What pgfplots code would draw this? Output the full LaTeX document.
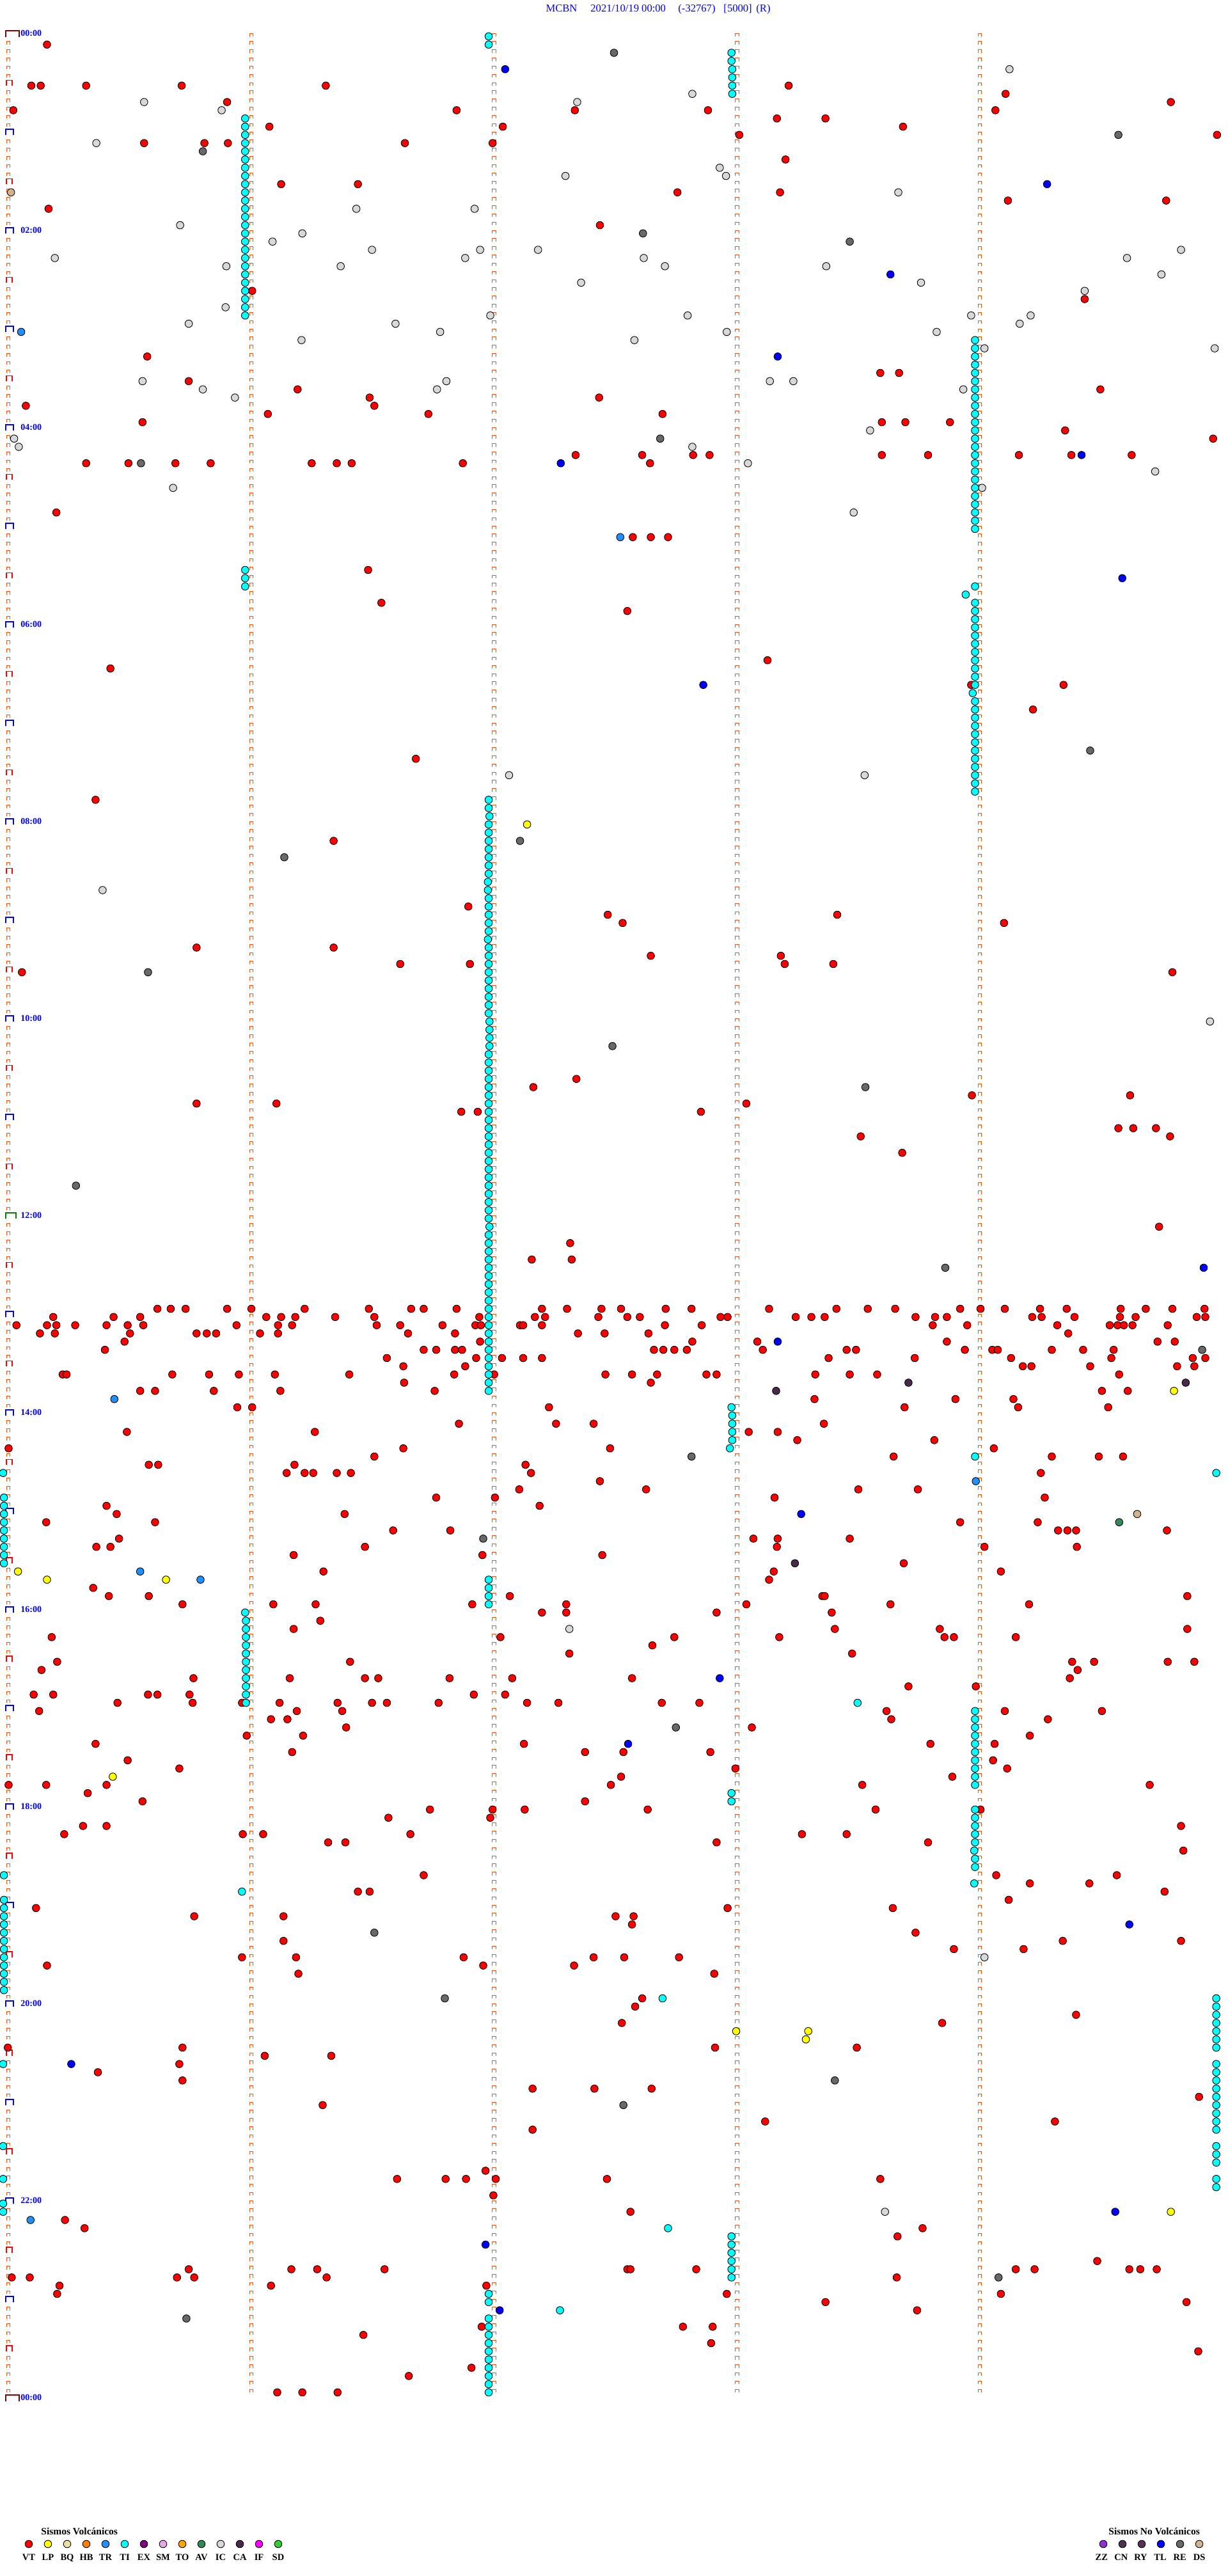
\documentclass[border=0pt]{standalone}
\usepackage{fontspec}
\setmainfont{Liberation Serif}
\usepackage{pgfplots}
\usepackage{pgfplotstable}
\pgfplotsset{compat=1.18}

\definecolor{cVT}{HTML}{FF0000}
\definecolor{cLP}{HTML}{FFFF00}
\definecolor{cBQ}{HTML}{F0E0A0}
\definecolor{cHB}{HTML}{FF8000}
\definecolor{cTR}{HTML}{1E90FF}
\definecolor{cTI}{HTML}{00FFFF}
\definecolor{cEX}{HTML}{800080}
\definecolor{cSM}{HTML}{E8A8E8}
\definecolor{cTO}{HTML}{FFA500}
\definecolor{cAV}{HTML}{2E8B57}
\definecolor{cIC}{HTML}{D8D8D8}
\definecolor{cCA}{HTML}{4A2A4A}
\definecolor{cIF}{HTML}{FF00FF}
\definecolor{cSD}{HTML}{32CD32}
\definecolor{cZZ}{HTML}{9030D0}
\definecolor{cCN}{HTML}{503050}
\definecolor{cRY}{HTML}{583058}
\definecolor{cTL}{HTML}{0000FF}
\definecolor{cRE}{HTML}{686868}
\definecolor{cDS}{HTML}{D2B48C}
\definecolor{trace}{HTML}{FF5000}
\definecolor{lblue}{HTML}{0000FF}
\definecolor{dkred}{HTML}{800000}
\definecolor{dkgreen}{HTML}{008000}

\pgfplotsset{ev/.style={only marks, mark=*, mark size=2.9pt,
  mark options={fill=#1, draw=black, line width=0.45pt}}}

% x: horizontal position within the 5-minute line, r: line number (5 min per line)
\pgfplotstableread[row sep=\\]{x r\\
60 1\\
40 6\\ 52 6\\ 110 6\\ 232 6\\ 416 6\\ 1007 6\\
1284 7\\
290 8\\ 1495 8\\
17 9\\ 583 9\\ 734 9\\ 904 9\\ 1271 9\\
992 10\\ 1054 10\\
344 11\\ 642 11\\ 1153 11\\
944 12\\ 1554 12\\
184 13\\ 261 13\\ 291 13\\ 517 13\\ 629 13\\
1003 15\\
359 18\\ 457 18\\
865 19\\ 996 19\\
1287 20\\ 1489 20\\
62 21\\
766 23\\
322 31\\
1385 32\\
188 39\\
1124 41\\ 1148 41\\
241 42\\
380 43\\ 1405 43\\
472 44\\ 765 44\\
33 45\\ 478 45\\
342 46\\ 547 46\\ 846 46\\
182 47\\ 1126 47\\ 1156 47\\ 1213 47\\
1360 48\\
1549 49\\
735 51\\ 820 51\\ 885 51\\ 906 51\\ 1126 51\\ 1185 51\\ 1301 51\\ 1368 51\\ 1445 51\\
110 52\\ 164 52\\ 224 52\\ 269 52\\ 398 52\\ 430 52\\ 449 52\\ 591 52\\ 830 52\\
72 58\\
808 61\\ 831 61\\ 853 61\\
470 65\\
487 69\\
801 70\\
980 76\\
141 77\\
1240 79\\ 1358 79\\
1319 82\\
531 88\\
122 93\\
426 98\\
598 106\\
776 107\\ 1069 107\\
795 108\\ 1282 108\\
251 111\\ 426 111\\
831 112\\ 997 112\\
511 113\\ 600 113\\ 1002 113\\ 1064 113\\
28 114\\ 1497 114\\
736 127\\
681 128\\
1241 129\\ 1443 129\\
251 130\\ 353 130\\ 953 130\\
589 131\\ 610 131\\ 895 131\\
1428 133\\ 1447 133\\ 1476 133\\
1099 134\\ 1494 134\\
1152 136\\
1480 145\\
728 147\\
679 149\\ 730 149\\
201 155\\ 218 155\\ 237 155\\ 290 155\\ 321 155\\ 389 155\\ 471 155\\ 525 155\\ 541 155\\ 583 155\\ 692 155\\ 724 155\\ 768 155\\ 793 155\\ 850 155\\ 883 155\\ 982 155\\ 1068 155\\ 1108 155\\ 1143 155\\ 1226 155\\ 1252 155\\ 1283 155\\ 1328 155\\ 1362 155\\ 1431 155\\ 1463 155\\ 1497 155\\ 1538 155\\
68 156\\ 145 156\\ 179 156\\ 340 156\\ 359 156\\ 377 156\\ 428 156\\ 478 156\\ 612 156\\ 683 156\\ 696 156\\ 764 156\\ 801 156\\ 817 156\\ 920 156\\ 929 156\\ 1016 156\\ 1036 156\\ 1053 156\\ 1169 156\\ 1194 156\\ 1209 156\\ 1318 156\\ 1330 156\\ 1372 156\\ 1430 156\\ 1450 156\\ 1528 156\\ 1539 156\\
21 157\\ 60 157\\ 72 157\\ 96 157\\ 136 157\\ 163 157\\ 183 157\\ 302 157\\ 355 157\\ 373 157\\ 481 157\\ 511 157\\ 565 157\\ 607 157\\ 614 157\\ 664 157\\ 668 157\\ 692 157\\ 849 157\\ 896 157\\ 1191 157\\ 1235 157\\ 1350 157\\ 1417 157\\ 1427 157\\ 1435 157\\ 1446 157\\ 1491 157\\
51 158\\ 70 158\\ 166 158\\ 251 158\\ 264 158\\ 276 158\\ 332 158\\ 355 158\\ 521 158\\ 581 158\\ 738 158\\ 772 158\\ 828 158\\ 1364 158\\
159 159\\ 613 159\\ 884 159\\ 967 159\\ 1209 159\\ 1478 159\\ 1500 159\\
134 160\\ 541 160\\ 557 160\\ 581 160\\ 590 160\\ 835 160\\ 847 160\\ 861 160\\ 877 160\\ 974 160\\ 1081 160\\ 1093 160\\ 1232 160\\ 1267 160\\ 1274 160\\ 1343 160\\ 1383 160\\ 1422 160\\
494 161\\ 608 161\\ 641 161\\ 668 161\\ 692 161\\ 1058 161\\ 1168 161\\ 1291 161\\ 1419 161\\ 1523 161\\ 1539 161\\
515 162\\ 594 162\\ 1306 162\\ 1317 162\\ 1392 162\\ 1503 162\\ 1525 162\\
80 163\\ 85 163\\ 220 163\\ 267 163\\ 305 163\\ 351 163\\ 446 163\\ 580 163\\ 631 163\\ 773 163\\ 807 163\\ 839 163\\ 902 163\\ 915 163\\ 1041 163\\ 1085 163\\ 1120 163\\ 1429 163\\
516 164\\ 831 164\\
179 165\\ 198 165\\ 273 165\\ 358 165\\ 555 165\\ 1407 165\\ 1440 165\\
1040 166\\ 1220 166\\ 1294 166\\
303 167\\ 322 167\\ 701 167\\ 1155 167\\ 1300 167\\ 1415 167\\
586 169\\ 710 169\\ 758 169\\ 1052 169\\
162 170\\ 402 170\\ 956 170\\ 993 170\\
1018 171\\ 1193 171\\
11 172\\ 515 172\\ 779 172\\ 1269 172\\
478 173\\ 1141 173\\ 1343 173\\ 1403 173\\ 1434 173\\
190 174\\ 202 174\\ 376 174\\ 671 174\\
366 175\\ 389 175\\ 400 175\\ 430 175\\ 448 175\\ 678 175\\ 1329 175\\
766 176\\
663 177\\ 825 177\\ 1096 177\\ 1172 177\\
557 178\\ 632 178\\ 989 178\\ 1334 178\\
136 179\\ 689 179\\
149 180\\ 440 180\\
59 181\\ 198 181\\ 1226 181\\ 1325 181\\
502 182\\ 575 182\\ 1351 182\\ 1363 182\\ 1374 182\\ 1490 182\\
152 183\\ 962 183\\ 993 183\\ 1085 183\\
123 184\\ 141 184\\ 466 184\\ 992 184\\ 1257 184\\ 1375 184\\
375 185\\ 616 185\\ 769 185\\
1154 186\\
413 187\\ 988 187\\ 1278 187\\
982 188\\
119 189\\
139 190\\ 190 190\\ 651 190\\ 1050 190\\ 1053 190\\ 1516 190\\
233 191\\ 349 191\\ 403 191\\ 603 191\\ 723 191\\ 953 191\\ 1137 191\\ 1314 191\\
692 192\\ 723 192\\ 915 192\\ 1062 192\\
409 193\\
375 194\\ 1066 194\\ 1200 194\\ 1516 194\\
66 195\\ 639 195\\ 861 195\\ 995 195\\ 1206 195\\ 1218 195\\ 1297 195\\
833 196\\
727 197\\ 1088 197\\
73 198\\ 447 198\\ 1369 198\\ 1397 198\\ 1491 198\\ 1525 198\\
53 199\\ 1376 199\\
247 200\\ 370 200\\ 466 200\\ 483 200\\ 574 200\\ 654 200\\ 807 200\\ 1366 200\\
1160 201\\ 1246 201\\
43 202\\ 68 202\\ 189 202\\ 201 202\\ 242 202\\ 605 202\\ 645 202\\
150 203\\ 246 203\\ 309 203\\ 357 203\\ 431 203\\ 475 203\\ 494 203\\ 560 203\\ 673 203\\ 713 203\\ 845 203\\ 893 203\\
50 204\\ 379 204\\ 437 204\\ 1132 204\\ 1283 204\\ 1407 204\\
346 205\\ 367 205\\ 1138 205\\ 1338 205\\
442 206\\ 960 206\\
315 207\\ 387 207\\ 1315 207\\
122 208\\ 669 208\\ 1188 208\\ 1270 208\\
373 209\\ 747 209\\ 796 209\\ 907 209\\
163 210\\ 1268 210\\
229 211\\ 939 211\\ 1286 211\\
793 212\\ 1216 212\\
11 213\\ 59 213\\ 136 213\\ 780 213\\ 1101 213\\ 1468 213\\
112 214\\
182 215\\ 747 215\\
549 216\\ 629 216\\ 670 216\\ 827 216\\ 1118 216\\ 1252 216\\
496 217\\ 626 217\\
106 218\\ 136 218\\ 1508 218\\
82 219\\ 310 219\\ 336 219\\ 524 219\\ 1024 219\\ 1081 219\\
419 220\\ 441 220\\ 915 220\\ 1185 220\\
1511 221\\
541 224\\ 1272 224\\ 1426 224\\
1315 225\\ 1391 225\\
457 226\\ 472 226\\ 1487 226\\
1288 227\\
46 228\\ 929 228\\ 1140 228\\
248 229\\ 362 229\\ 786 229\\ 809 229\\
807 230\\
1169 231\\
362 232\\ 1357 232\\ 1508 232\\
1218 233\\ 1307 233\\
309 234\\ 378 234\\ 592 234\\ 758 234\\ 797 234\\ 867 234\\
60 235\\ 617 235\\ 733 235\\
381 236\\ 912 236\\
820 239\\
811 240\\
1374 241\\
794 242\\ 1203 242\\
10 245\\ 233 245\\ 913 245\\ 1094 245\\
338 246\\ 423 246\\
229 247\\
125 248\\
233 249\\
680 250\\ 759 250\\ 832 250\\
1531 251\\
412 252\\
977 254\\ 1347 254\\
680 255\\
620 260\\
507 261\\ 569 261\\ 595 261\\ 633 261\\ 775 261\\ 1124 261\\
630 263\\
805 265\\
83 266\\
108 267\\ 1178 267\\
1146 268\\
1401 271\\
241 272\\ 372 272\\ 405 272\\ 491 272\\ 801 272\\ 805 272\\ 889 272\\ 1297 272\\ 1321 272\\ 1442 272\\ 1456 272\\ 1477 272\\
15 273\\ 38 273\\ 226 273\\ 248 273\\ 417 273\\ 1145 273\\
76 274\\ 346 274\\ 621 274\\
73 275\\ 928 275\\ 1278 275\\
1054 276\\ 1515 276\\
1171 277\\
615 279\\ 872 279\\ 910 279\\
464 280\\
908 281\\
1530 282\\
602 284\\
522 285\\
354 287\\ 386 287\\ 431 287\\
}\tabVT

\pgfplotstableread[row sep=\\]{x r\\
624 0\\ 624 1\\
934 2\\ 934 3\\ 935 4\\ 935 5\\ 935 6\\ 935 7\\
313 10\\ 313 11\\ 313 12\\ 313 13\\ 313 14\\ 313 15\\ 313 16\\ 313 17\\ 313 18\\ 313 19\\ 313 20\\ 313 21\\ 313 22\\ 313 23\\ 313 24\\ 313 25\\ 313 26\\ 313 27\\ 313 28\\ 313 29\\ 313 30\\ 313 31\\ 313 32\\ 313 33\\ 313 34\\
1245 37\\ 1245 38\\ 1245 39\\ 1245 40\\ 1245 41\\ 1245 42\\ 1245 43\\ 1245 44\\ 1245 45\\ 1245 46\\ 1245 47\\ 1245 48\\ 1245 49\\ 1245 50\\ 1245 51\\ 1245 52\\ 1245 53\\ 1245 54\\ 1245 55\\ 1245 56\\ 1245 57\\ 1245 58\\ 1245 59\\ 1245 60\\
313 65\\ 313 66\\ 313 67\\
1245 67\\ 1233 68\\
1245 69\\ 1245 70\\ 1245 71\\ 1245 72\\ 1245 73\\ 1245 74\\ 1245 75\\ 1245 76\\ 1245 77\\ 1245 78\\ 1245 79\\ 1242 80\\ 1245 81\\ 1245 82\\ 1245 83\\ 1245 84\\ 1245 85\\ 1245 86\\ 1245 87\\ 1245 88\\ 1245 89\\ 1245 90\\ 1245 91\\ 1245 92\\
624 93\\ 624 94\\ 625 95\\ 624 96\\ 624 97\\ 624 98\\ 624 99\\ 624 100\\ 624 101\\ 624 102\\ 623 103\\ 623 104\\ 624 105\\ 624 106\\ 624 107\\ 624 108\\ 624 109\\ 623 110\\ 624 111\\ 624 112\\ 624 113\\ 624 114\\ 624 115\\ 624 116\\ 624 117\\ 624 118\\ 624 119\\ 625 120\\ 625 121\\ 625 122\\ 625 123\\ 624 124\\ 624 125\\ 624 126\\ 624 127\\ 624 128\\ 624 129\\ 624 130\\ 624 131\\ 624 132\\ 624 133\\ 624 134\\ 624 135\\ 624 136\\ 624 137\\ 624 138\\ 624 139\\ 624 140\\ 624 141\\ 624 142\\ 624 143\\
624 144\\ 625 145\\ 624 146\\ 624 147\\ 624 148\\ 624 149\\ 624 150\\ 624 151\\ 624 152\\ 624 153\\ 624 154\\ 624 155\\ 624 156\\ 624 157\\ 624 158\\ 624 159\\ 624 160\\ 624 161\\ 624 162\\ 624 163\\ 624 164\\ 624 165\\
934 167\\ 935 168\\ 935 169\\ 935 170\\ 935 171\\ 932 172\\
1245 173\\
4 175\\ 1553 175\\
5 178\\ 5 179\\ 5 180\\ 5 181\\ 5 182\\ 5 183\\ 5 184\\ 5 185\\ 5 186\\
624 188\\ 624 189\\ 624 190\\ 624 191\\
313 192\\ 314 193\\ 314 194\\ 314 195\\ 314 196\\ 314 197\\ 314 198\\ 314 199\\ 314 200\\ 314 201\\ 314 202\\ 314 203\\
1095 203\\
1245 204\\ 1245 205\\ 1245 206\\ 1245 207\\ 1245 208\\ 1245 209\\ 1245 210\\ 1245 211\\ 1245 212\\ 1245 213\\
934 214\\ 934 215\\
1245 216\\ 1245 217\\ 1245 218\\ 1245 219\\ 1245 220\\ 1244 221\\ 1245 222\\ 1245 223\\
5 224\\ 1244 225\\ 309 226\\
5 227\\ 5 228\\ 5 229\\ 5 230\\ 5 231\\ 5 232\\ 5 233\\ 5 234\\ 5 235\\ 5 236\\ 5 237\\ 5 238\\
846 239\\
1553 239\\ 1553 240\\ 1553 241\\ 1553 242\\ 1553 243\\ 1553 244\\ 1553 245\\
4 247\\
1553 247\\ 1553 248\\ 1553 249\\ 1553 250\\ 1553 251\\ 1553 252\\ 1553 253\\ 1553 254\\ 1553 255\\
4 257\\
1553 257\\ 1553 258\\ 1553 259\\
4 261\\
1553 261\\ 1553 262\\
4 264\\ 4 265\\
853 267\\
934 268\\ 934 269\\ 934 270\\ 934 271\\ 934 272\\ 934 273\\
624 275\\ 624 276\\ 715 277\\ 624 278\\ 624 279\\ 624 280\\ 624 281\\ 624 282\\ 624 283\\ 624 284\\ 624 285\\ 624 286\\ 624 287\\
}\tabTI

\pgfplotstableread[row sep=\\]{x r\\
1289 4\\ 884 7\\ 184 8\\ 737 8\\ 283 9\\ 123 13\\ 919 16\\ 722 17\\ 927 17\\ 1147 19\\
455 21\\ 606 21\\ 230 23\\ 386 24\\ 348 25\\ 475 26\\ 613 26\\ 687 26\\ 1508 26\\
70 27\\ 594 27\\ 822 27\\ 1439 27\\ 289 28\\ 435 28\\ 849 28\\ 1055 28\\ 1483 29\\
742 30\\ 1176 30\\ 1385 31\\ 288 33\\ 626 34\\ 878 34\\ 1240 34\\ 1316 34\\
241 35\\ 505 35\\ 1302 35\\ 562 36\\ 928 36\\ 1196 36\\ 385 37\\ 810 37\\ 1257 38\\ 1551 38\\
182 42\\ 570 42\\ 983 42\\ 1013 42\\ 259 43\\ 558 43\\ 1230 43\\ 300 44\\
1111 48\\ 18 49\\ 24 50\\ 884 50\\ 955 52\\ 1475 53\\ 221 55\\ 1254 55\\ 1090 58\\
650 90\\ 1104 90\\ 131 104\\ 1545 120\\ 727 194\\ 1257 234\\ 1130 265\\
}\tabIC

\pgfplotstableread[row sep=\\]{x r\\
784 2\\ 1428 12\\ 259 14\\ 821 24\\ 1085 25\\ 843 49\\ 180 52\\ 1392 87\\ 664 98\\ 363 100\\
189 114\\ 782 123\\ 1105 128\\ 97 140\\ 1207 150\\ 1535 160\\ 883 173\\ 617 183\\ 863 206\\
478 231\\ 568 239\\ 1066 249\\ 796 252\\ 1275 273\\ 238 278\\
}\tabRE

\pgfplotstableread[row sep=\\]{x r\\
645 4\\ 1337 18\\ 1137 29\\ 993 39\\ 1381 51\\ 716 52\\ 1433 66\\ 898 79\\ 1537 150\\
993 159\\ 1023 180\\ 919 200\\ 802 208\\ 1442 230\\ 91 247\\ 1424 265\\ 620 269\\ 638 277\\
}\tabTL

\pgfplotstableread[row sep=\\]{x r\\
27 36\\ 792 61\\ 146 166\\ 1246 176\\ 179 187\\ 256 188\\ 39 266\\
}\tabTR

\pgfplotstableread[row sep=\\]{x r\\
673 96\\ 1499 165\\ 23 187\\ 60 188\\ 212 188\\ 144 212\\ 940 243\\ 1032 243\\ 1029 244\\ 1495 265\\
}\tabLP

\pgfplotstableread[row sep=\\]{x r\\
14 19\\ 1452 180\\
}\tabDS

\pgfplotstableread[row sep=\\]{x r\\
1429 181\\
}\tabAV

\pgfplotstableread[row sep=\\]{x r\\
1160 164\\ 1514 164\\ 991 165\\ 1015 186\\
}\tabCA

\begin{document}
\begin{tikzpicture}
\begin{axis}[name=ax, scale only axis, width=960pt, height=2013.5pt,
  xmin=0, xmax=1568, ymin=-4.432, ymax=309.37, y dir=reverse,
  axis lines=none, ticks=none, clip=false]

% trace markers of the four inner minute columns
\pgfplotsinvokeforeach{0,...,287}{
  \pgfmathsetmacro\yy{#1-0.18}
  \edef\tmp{\noexpand\draw[trace,line width=0.5pt]
   (axis cs:321,\yy) ++(-1.4pt,-1.25pt) -- ++(0pt,2.5pt) -- ++(2.8pt,0pt) -- ++(0pt,-2.5pt)
   (axis cs:631,\yy) ++(-1.4pt,-1.25pt) -- ++(0pt,2.5pt) -- ++(2.8pt,0pt) -- ++(0pt,-2.5pt)
   (axis cs:941,\yy) ++(-1.4pt,-1.25pt) -- ++(0pt,2.5pt) -- ++(2.8pt,0pt) -- ++(0pt,-2.5pt)
   (axis cs:1251,\yy) ++(-1.4pt,-1.25pt) -- ++(0pt,2.5pt) -- ++(2.8pt,0pt) -- ++(0pt,-2.5pt);}
  \tmp
}
% left small marks
\pgfplotsinvokeforeach{0,...,47}{
  \pgfmathsetmacro\ya{6*#1+0.82}
  \pgfmathsetmacro\yb{6*#1+1.82}
  \pgfmathsetmacro\yc{6*#1+2.82}
  \pgfmathsetmacro\yd{6*#1+3.82}
  \pgfmathsetmacro\ye{6*#1+4.82}
  \edef\tmp{\noexpand\draw[trace,line width=0.5pt]
   (axis cs:10.5,\ya) ++(-1.4pt,-1.25pt) -- ++(0pt,2.5pt) -- ++(2.8pt,0pt) -- ++(0pt,-2.5pt)
   (axis cs:10.5,\yb) ++(-1.4pt,-1.25pt) -- ++(0pt,2.5pt) -- ++(2.8pt,0pt) -- ++(0pt,-2.5pt)
   (axis cs:10.5,\yc) ++(-1.4pt,-1.25pt) -- ++(0pt,2.5pt) -- ++(2.8pt,0pt) -- ++(0pt,-2.5pt)
   (axis cs:10.5,\yd) ++(-1.4pt,-1.25pt) -- ++(0pt,2.5pt) -- ++(2.8pt,0pt) -- ++(0pt,-2.5pt)
   (axis cs:10.5,\ye) ++(-1.4pt,-1.25pt) -- ++(0pt,2.5pt) -- ++(2.8pt,0pt) -- ++(0pt,-2.5pt);}
  \tmp
}
% half-hour marks
\pgfplotsinvokeforeach{0,...,23}{
  \pgfmathsetmacro\yy{12*#1+6-0.33}
  \edef\tmp{\noexpand\draw[red,line width=0.6pt]
   (axis cs:11.8,\yy) ++(-2.25pt,-2.25pt) -- ++(0pt,4.5pt) -- ++(4.5pt,0pt) -- ++(0pt,-4.5pt);}
  \tmp
}
% hour marks
\pgfplotsinvokeforeach{1,...,11,13,14,...,23}{
  \pgfmathsetmacro\yy{12*#1-0.33}
  \edef\tmp{\noexpand\draw[lblue,line width=0.9pt]
   (axis cs:12.25,\yy) ++(-2.85pt,-2.25pt) -- ++(0pt,4.5pt) -- ++(5.7pt,0pt) -- ++(0pt,-4.5pt);}
  \tmp
}
\draw[dkgreen,line width=1pt] (axis cs:14.1,143.67) ++(-4pt,-2.3pt) -- ++(0pt,4.6pt) -- ++(8pt,0pt) -- ++(0pt,-4.6pt);
\draw[dkred,line width=1pt] (axis cs:16.1,-0.33) ++(-5.2pt,-2.5pt) -- ++(0pt,5pt) -- ++(10.4pt,0pt) -- ++(0pt,-5pt);
\draw[dkred,line width=1pt] (axis cs:16.1,287.67) ++(-5.2pt,-2.5pt) -- ++(0pt,5pt) -- ++(10.4pt,0pt) -- ++(0pt,-5pt);

% time labels
\begin{scope}[every node/.style={anchor=base west, text=lblue, font=\bfseries\fontsize{7}{8}\selectfont, inner sep=0pt}]
\node at (axis cs:26.1,-0.04) {00:00};
\node at (axis cs:26.1,23.96) {02:00};
\node at (axis cs:26.1,47.96) {04:00};
\node at (axis cs:26.1,71.96) {06:00};
\node at (axis cs:26.1,95.96) {08:00};
\node at (axis cs:26.1,119.96) {10:00};
\node at (axis cs:26.1,143.96) {12:00};
\node at (axis cs:26.1,167.96) {14:00};
\node at (axis cs:26.1,191.96) {16:00};
\node at (axis cs:26.1,215.96) {18:00};
\node at (axis cs:26.1,239.96) {20:00};
\node at (axis cs:26.1,263.96) {22:00};
\node at (axis cs:26.1,287.96) {00:00};
\end{scope}

% title
\begin{scope}[every node/.style={anchor=base west, text=lblue, font=\fontsize{8.3}{10}\selectfont, inner sep=0pt}]
\node at (axis cs:696.7,-3.006) {MCBN};
\node at (axis cs:753.8,-3.006) {2021/10/19 00:00};
\node at (axis cs:865.7,-3.006) {(-32767)};
\node at (axis cs:923.7,-3.006) {[5000]};
\node at (axis cs:965.3,-3.006) {(R)};
\end{scope}

% events
\addplot[ev=cIC] table[x=x,y=r] {\tabIC};
\addplot[ev=cRE] table[x=x,y=r] {\tabRE};
\addplot[ev=cVT] table[x=x,y=r] {\tabVT};
\addplot[ev=cTI] table[x=x,y=r] {\tabTI};
\addplot[ev=cTL] table[x=x,y=r] {\tabTL};
\addplot[ev=cTR] table[x=x,y=r] {\tabTR};
\addplot[ev=cLP] table[x=x,y=r] {\tabLP};
\addplot[ev=cDS] table[x=x,y=r] {\tabDS};
\addplot[ev=cAV] table[x=x,y=r] {\tabAV};
\addplot[ev=cCA] table[x=x,y=r] {\tabCA};

% legend: volcanic
\node[anchor=base west, font=\bfseries\fontsize{7.75}{9}\selectfont, inner sep=0pt] at (axis cs:52.3,304.36) {Sismos Volcánicos};
\addplot[ev=cVT] coordinates {(36.75,305.47)};
\addplot[ev=cLP] coordinates {(61.25,305.47)};
\addplot[ev=cBQ] coordinates {(85.75,305.47)};
\addplot[ev=cHB] coordinates {(110.25,305.47)};
\addplot[ev=cTR] coordinates {(134.75,305.47)};
\addplot[ev=cTI] coordinates {(159.25,305.47)};
\addplot[ev=cEX] coordinates {(183.75,305.47)};
\addplot[ev=cSM] coordinates {(208.25,305.47)};
\addplot[ev=cTO] coordinates {(232.75,305.47)};
\addplot[ev=cAV] coordinates {(257.25,305.47)};
\addplot[ev=cIC] coordinates {(281.75,305.47)};
\addplot[ev=cCA] coordinates {(306.25,305.47)};
\addplot[ev=cIF] coordinates {(330.75,305.47)};
\addplot[ev=cSD] coordinates {(355.25,305.47)};
\begin{scope}[every node/.style={anchor=base, font=\bfseries\fontsize{7.25}{9}\selectfont, inner sep=0pt}]
\node at (axis cs:36.75,307.42) {VT};
\node at (axis cs:61.25,307.42) {LP};
\node at (axis cs:85.75,307.42) {BQ};
\node at (axis cs:110.25,307.42) {HB};
\node at (axis cs:134.75,307.42) {TR};
\node at (axis cs:159.25,307.42) {TI};
\node at (axis cs:183.75,307.42) {EX};
\node at (axis cs:208.25,307.42) {SM};
\node at (axis cs:232.75,307.42) {TO};
\node at (axis cs:257.25,307.42) {AV};
\node at (axis cs:281.75,307.42) {IC};
\node at (axis cs:306.25,307.42) {CA};
\node at (axis cs:330.75,307.42) {IF};
\node at (axis cs:355.25,307.42) {SD};
\end{scope}

% legend: non volcanic
\node[anchor=base west, font=\bfseries\fontsize{7.75}{9}\selectfont, inner sep=0pt] at (axis cs:1415.3,304.36) {Sismos No Volcánicos};
\addplot[ev=cZZ] coordinates {(1408.8,305.47)};
\addplot[ev=cCN] coordinates {(1433.3,305.47)};
\addplot[ev=cRY] coordinates {(1457.8,305.47)};
\addplot[ev=cTL] coordinates {(1482.3,305.47)};
\addplot[ev=cRE] coordinates {(1506.8,305.47)};
\addplot[ev=cDS] coordinates {(1531.3,305.47)};
\begin{scope}[every node/.style={anchor=base, font=\bfseries\fontsize{7.25}{9}\selectfont, inner sep=0pt}]
\node at (axis cs:1406.5,307.42) {ZZ};
\node at (axis cs:1431.5,307.42) {CN};
\node at (axis cs:1456.5,307.42) {RY};
\node at (axis cs:1481.5,307.42) {TL};
\node at (axis cs:1506.5,307.42) {RE};
\node at (axis cs:1531.3,307.42) {DS};
\end{scope}
\end{axis}
\pgfresetboundingbox
\path (ax.south west) rectangle (ax.north east);
\end{tikzpicture}
\end{document}
